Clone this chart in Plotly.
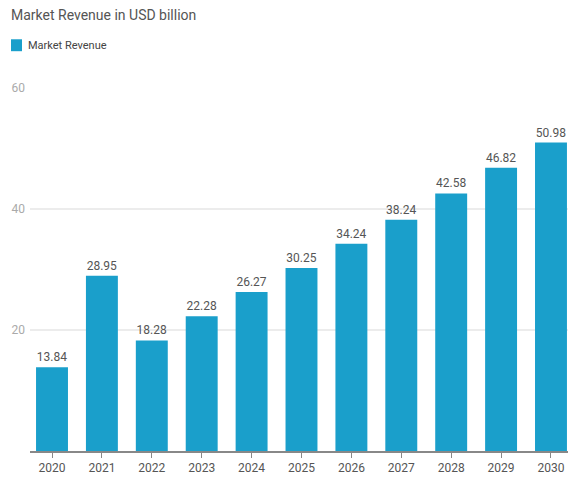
import plotly.graph_objects as go

years = ["2020", "2021", "2022", "2023", "2024", "2025", "2026", "2027", "2028", "2029", "2030"]
revenue = [13.84, 28.95, 18.28, 22.28, 26.27, 30.25, 34.24, 38.24, 42.58, 46.82, 50.98]
y_ticks = [20, 40, 60]
series_name = "Market Revenue"
chart_title = "Market Revenue in USD billion"

BAR = "#1a9fcb"
FONT = "Roboto"

# page is offset by the default 8px body margin
W, H = 560, 467
L, T, B, R = 22, 80, 22, 0
PW, PH = W - L - R, H - T - B


def px_x(p):  # page x -> paper x
    return (p - 8 - L) / PW


def px_y(p):  # page y -> paper y
    return (H - B - (p - 8)) / PH


fig = go.Figure()
fig.add_trace(go.Bar(
    x=years, y=revenue, name=series_name,
    marker=dict(color=BAR, line=dict(width=0)),
    text=[f"{v:.2f}" for v in revenue], textposition="outside",
    textfont=dict(family=FONT, size=12, color="#555555"),
    cliponaxis=False, showlegend=False,
))

# legend swatch + label
fig.add_shape(type="rect", xref="paper", yref="paper",
              x0=px_x(11), x1=px_x(22), y0=px_y(51), y1=px_y(39),
              fillcolor=BAR, line=dict(width=0))
fig.add_annotation(text=series_name, xref="paper", yref="paper",
                   x=px_x(26), y=px_y(45), xanchor="left", yanchor="middle",
                   showarrow=False, font=dict(family=FONT, size=11, color="#444444"))

fig.update_layout(
    width=W, height=H,
    margin=dict(l=L, r=R, t=T, b=B),
    paper_bgcolor="white", plot_bgcolor="white",
    bargap=0.36,
    font=dict(family=FONT, color="#555555"),
    title=dict(text=chart_title, x=3 / W, xanchor="left",
               y=1 - 7 / H, yanchor="middle",
               font=dict(family=FONT, size=14, color="#555555")),
    showlegend=False,
    xaxis=dict(type="category", range=[-0.441, 10.341], showgrid=False,
               showline=True, linecolor="#888888", linewidth=1.5,
               ticks="outside", ticklen=5, tickcolor="#888888",
               tickfont=dict(family=FONT, size=12, color="#555555")),
    yaxis=dict(range=[0, 60], tickvals=y_ticks, showgrid=True, gridcolor="#ececec",
               gridwidth=1.5, zeroline=False, showline=False,
               tickfont=dict(family=FONT, size=12, color="#aaaaaa"), ticklabelstandoff=4),
)

fig.write_html("out.html")
